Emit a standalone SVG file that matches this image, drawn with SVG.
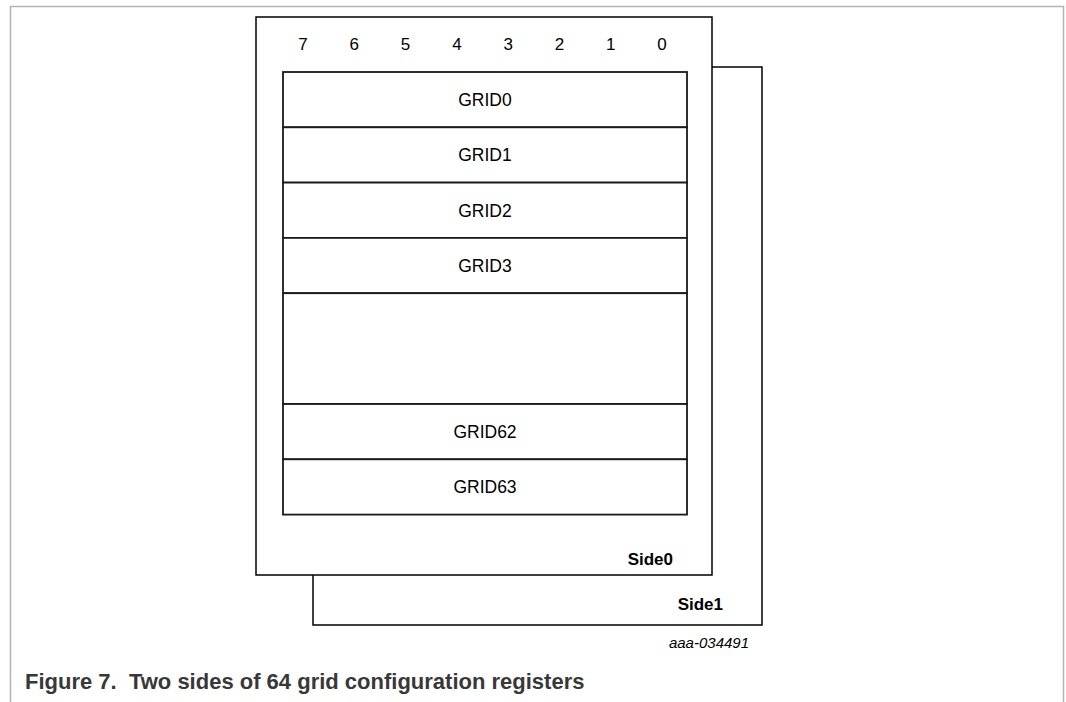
<svg xmlns="http://www.w3.org/2000/svg" width="1066" height="702" viewBox="0 0 1066 702">
<style>
.frame{fill:none;stroke:#b4b4b4;stroke-width:1.5}
.box{fill:#fff;stroke:#000;stroke-width:1.5}
.row{fill:#fff;stroke:#1a1a1a;stroke-width:1.8}
.t{font-family:"Liberation Sans",Arial,sans-serif;font-size:17px;fill:#000;text-anchor:middle}
.g{font-family:"Liberation Sans",Arial,sans-serif;font-size:17.5px;fill:#000;text-anchor:middle}
.b{font-family:"Liberation Sans",Arial,sans-serif;font-size:17px;font-weight:bold;fill:#000;text-anchor:end}
.i{font-family:"Liberation Sans",Arial,sans-serif;font-size:15px;font-style:italic;fill:#000;text-anchor:end}
.cap{font-family:"Liberation Sans",Arial,sans-serif;font-size:22px;font-weight:bold;fill:#383838}
</style>
<rect width="1066" height="702" fill="#fff"/>
<path class="frame" d="M10.5,702 V6.5 H1063.5 V702"/>
<g id="side1">
<rect class="box" x="313" y="67" width="449" height="558"/>
<text class="b" x="723" y="610">Side1</text>
</g>
<g id="side0">
<rect class="box" x="256" y="17" width="456" height="558"/>
<text class="t" x="303" y="50">7</text>
<text class="t" x="354.3" y="50">6</text>
<text class="t" x="405.6" y="50">5</text>
<text class="t" x="456.9" y="50">4</text>
<text class="t" x="508.2" y="50">3</text>
<text class="t" x="559.5" y="50">2</text>
<text class="t" x="610.8" y="50">1</text>
<text class="t" x="662" y="50">0</text>
<text class="b" x="673" y="565">Side0</text>
</g>
<g id="grid0"><rect class="row" x="283" y="72" width="404" height="55.3"/><text class="g" x="485" y="106">GRID0</text></g>
<g id="grid1"><rect class="row" x="283" y="127.3" width="404" height="55.3"/><text class="g" x="485" y="161.3">GRID1</text></g>
<g id="grid2"><rect class="row" x="283" y="182.6" width="404" height="55.3"/><text class="g" x="485" y="216.6">GRID2</text></g>
<g id="grid3"><rect class="row" x="283" y="237.9" width="404" height="55.3"/><text class="g" x="485" y="271.9">GRID3</text></g>
<g id="gap"><rect class="row" x="283" y="293.2" width="404" height="110.8"/></g>
<g id="grid62"><rect class="row" x="283" y="404" width="404" height="55.3"/><text class="g" x="485" y="438">GRID62</text></g>
<g id="grid63"><rect class="row" x="283" y="459.3" width="404" height="55.3"/><text class="g" x="485" y="493.3">GRID63</text></g>
<g id="connectors"></g>
<text class="i" x="749" y="648">aaa-034491</text>
<text class="cap" x="25" y="689">Figure 7.&#160; Two sides of 64 grid configuration registers</text>
</svg>
